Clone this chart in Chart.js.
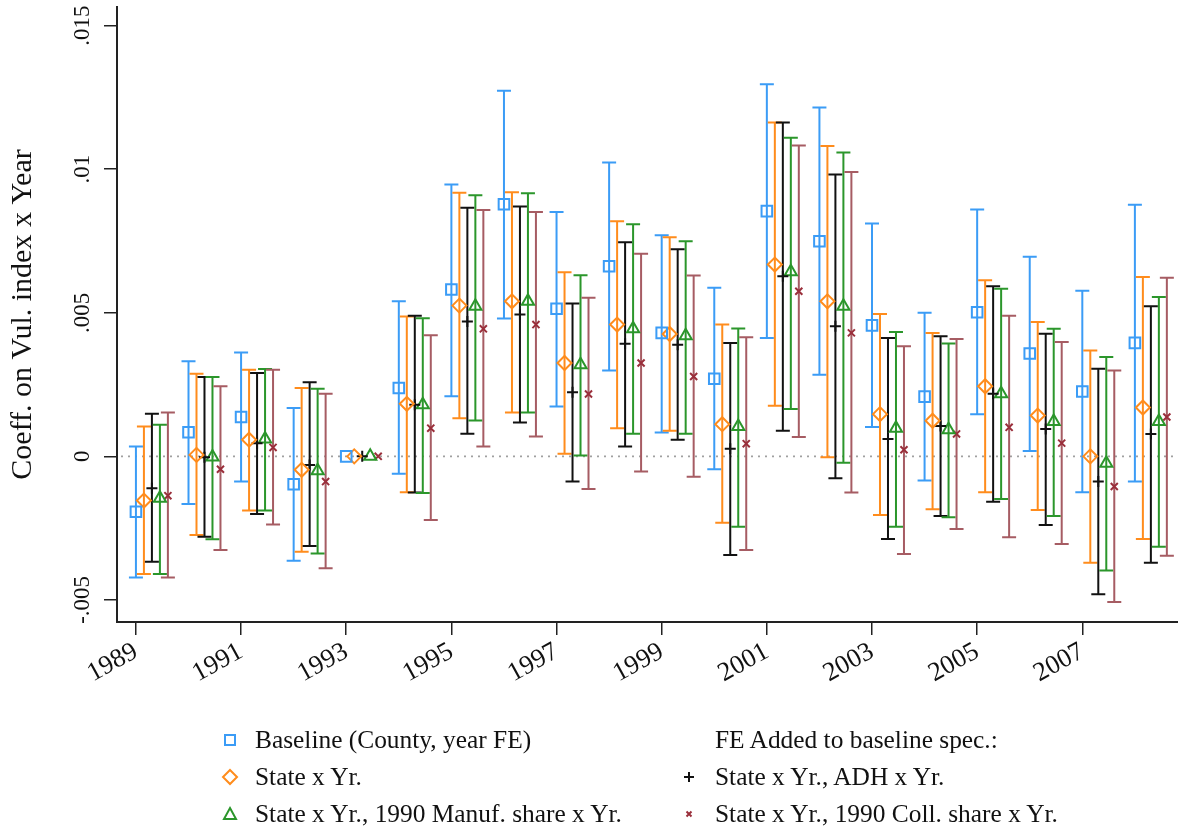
<!DOCTYPE html>
<html>
<head>
<meta charset="utf-8">
<script src="https://cdn.jsdelivr.net/npm/chart.js@4.4.1/dist/chart.umd.min.js"></script>
<style>
  html, body { margin: 0; padding: 0; background: #fff; }
  #wrap { position: relative; width: 1178px; height: 833px; overflow: hidden; }
  #chart { position: absolute; left: 0; top: 0; }
  .leg { position: absolute; font-family: 'Liberation Serif', 'Times New Roman', serif; font-size: 25.4px; line-height: 1; color: #111; white-space: nowrap; }
  .sym { position: absolute; width: 20px; height: 20px; }
</style>
</head>
<body>
<div id="wrap">
  <canvas id="chart" width="1178" height="833"></canvas>
  <div id="legend"></div>
</div>
<script>
// ---------- DATA ----------
const years = [1989, 1990, 1991, 1992, 1993, 1994, 1995, 1996, 1997, 1998,
               1999, 2000, 2001, 2002, 2003, 2004, 2005, 2006, 2007, 2008];
const xTicks = [1989, 1991, 1993, 1995, 1997, 1999, 2001, 2003, 2005, 2007];
const yTicks = [-0.005, 0, 0.005, 0.01, 0.015];
const yTickLabels = ['-.005', '0', '.005', '.01', '.015'];

// Baseline (County, year FE)
const basePt = [-0.00193, 0.00084, 0.00137, -0.00097, 0, 0.00238, 0.00581, 0.00878, 0.00514, 0.00662,
                0.00430, 0.00270, 0.00854, 0.00749, 0.00456, 0.00208, 0.00502, 0.00358, 0.00226, 0.00395];
const baseLo = [-0.00422, -0.00166, -0.00088, -0.00364, null, -0.00061, 0.00209, 0.00480, 0.00174, 0.00299,
                0.00083, -0.00045, 0.00412, 0.00284, 0.00102, -0.00084, 0.00147, 0.00019, -0.00125, -0.00088];
const baseHi = [0.00034, 0.00331, 0.00362, 0.00168, null, 0.00540, 0.00947, 0.01273, 0.00851, 0.01023,
                0.00770, 0.00587, 0.01296, 0.01215, 0.00811, 0.00500, 0.00860, 0.00695, 0.00577, 0.00876];

// State x Yr.
const statePt = [-0.00154, 0.00005, 0.00058, -0.00047, 0, 0.00183, 0.00525, 0.00540, 0.00325, 0.00459,
                 0.00426, 0.00112, 0.00668, 0.00540, 0.00147, 0.00124, 0.00244, 0.00142, 0.00000, 0.00170];
const stateLo = [-0.00410, -0.00274, -0.00189, -0.00332, null, -0.00125, 0.00133, 0.00153, 0.00009, 0.00098,
                 0.00089, -0.00231, 0.00176, -0.00003, -0.00204, -0.00184, -0.00125, -0.00187, -0.00371, -0.00288];
const stateHi = [0.00104, 0.00288, 0.00302, 0.00238, null, 0.00487, 0.00918, 0.00920, 0.00641, 0.00819,
                 0.00763, 0.00459, 0.01163, 0.01081, 0.00496, 0.00430, 0.00613, 0.00468, 0.00369, 0.00625];

// State x Yr., ADH x Yr.
const adhPt = [-0.00111, -0.00003, 0.00046, -0.00030, 0, 0.00180, 0.00470, 0.00494, 0.00223, 0.00392,
               0.00389, 0.00026, 0.00627, 0.00453, 0.00060, 0.00106, 0.00218, 0.00095, -0.00088, 0.00078];
const adhLo = [-0.00367, -0.00280, -0.00201, -0.00312, null, -0.00126, 0.00079, 0.00118, -0.00088, 0.00034,
               0.00058, -0.00344, 0.00089, -0.00076, -0.00288, -0.00208, -0.00158, -0.00239, -0.00480, -0.00371];
const adhHi = [0.00148, 0.00276, 0.00290, 0.00258, null, 0.00490, 0.00866, 0.00870, 0.00532, 0.00746,
               0.00721, 0.00395, 0.01163, 0.00982, 0.00412, 0.00418, 0.00592, 0.00427, 0.00305, 0.00523];

// State x Yr., 1990 Manuf. share x Yr.
const manufPt = [-0.00146, -0.00002, 0.00060, -0.00050, 0, 0.00180, 0.00523, 0.00540, 0.00319, 0.00444,
                 0.00420, 0.00104, 0.00643, 0.00523, 0.00098, 0.00093, 0.00218, 0.00121, -0.00024, 0.00121];
const manufLo = [-0.00410, -0.00289, -0.00189, -0.00338, null, -0.00128, 0.00125, 0.00153, 0.00003, 0.00079,
                 0.00079, -0.00245, 0.00165, -0.00022, -0.00245, -0.00212, -0.00149, -0.00208, -0.00398, -0.00315];
const manufHi = [0.00110, 0.00276, 0.00304, 0.00235, null, 0.00481, 0.00909, 0.00916, 0.00631, 0.00808,
                 0.00749, 0.00445, 0.01110, 0.01058, 0.00433, 0.00393, 0.00584, 0.00444, 0.00346, 0.00555];

// State x Yr., 1990 Coll. share x Yr.
const collPt = [-0.00137, -0.00045, 0.00031, -0.00088, 0, 0.00098, 0.00444, 0.00459, 0.00217, 0.00325,
                0.00278, 0.00044, 0.00575, 0.00430, 0.00023, 0.00078, 0.00101, 0.00046, -0.00105, 0.00137];
const collLo = [-0.00422, -0.00326, -0.00237, -0.00390, null, -0.00222, 0.00034, 0.00069, -0.00114, -0.00053,
                -0.00071, -0.00326, 0.00067, -0.00126, -0.00340, -0.00253, -0.00282, -0.00305, -0.00507, -0.00346];
const collHi = [0.00153, 0.00244, 0.00302, 0.00218, null, 0.00422, 0.00858, 0.00851, 0.00552, 0.00706,
                0.00630, 0.00415, 0.01083, 0.00990, 0.00383, 0.00409, 0.00490, 0.00398, 0.00299, 0.00622];

// ---------- STYLE ----------
const FONT = "'Liberation Serif', 'Times New Roman', serif";
const BLUE = '#3b9cf6', ORANGE = '#ff8c1c', BLACK = '#111111', GREEN = '#2b962b', MAROON = '#a65c63';

// series drawn side by side within each year
const series = [
  { label: 'Baseline (County, year FE)', pt: basePt, lo: baseLo, hi: baseHi, color: BLUE, style: 'rect', r: 7.5, mark: BLUE },
  { label: 'State x Yr.', pt: statePt, lo: stateLo, hi: stateHi, color: ORANGE, style: 'rectRot', r: 7, mark: ORANGE },
  { label: 'State x Yr., ADH x Yr.', pt: adhPt, lo: adhLo, hi: adhHi, color: BLACK, style: 'cross', r: 5.5, mark: BLACK },
  { label: 'State x Yr., 1990 Manuf. share x Yr.', pt: manufPt, lo: manufLo, hi: manufHi, color: GREEN, style: 'triangle', r: 7, mark: GREEN },
  { label: 'State x Yr., 1990 Coll. share x Yr.', pt: collPt, lo: collLo, hi: collHi, color: MAROON, style: 'crossRot', r: 5, mark: '#9a2f3b' }
];
const STEP = 0.152; // horizontal shift between series (in years)
const CAP = 7;      // half cap width, px

// ---------- PLUGINS ----------
const errorBars = {
  id: 'errorBars',
  beforeDatasetsDraw(chart) {
    const { ctx, chartArea, scales: { x, y } } = chart;
    ctx.save();
    // dotted zero reference line
    const y0 = y.getPixelForValue(0);
    ctx.strokeStyle = '#a0a0a0';
    ctx.lineWidth = 1.6;
    ctx.setLineDash([2, 5]);
    ctx.beginPath();
    ctx.moveTo(chartArea.left + 4, y0);
    ctx.lineTo(chartArea.right, y0);
    ctx.stroke();
    ctx.setLineDash([]);

    // capped spikes
    series.forEach((s, k) => {
      ctx.strokeStyle = s.color;
      ctx.lineWidth = 2;
      years.forEach((yr, i) => {
        if (s.lo[i] == null || s.hi[i] == null) return;
        const px = x.getPixelForValue(yr + k * STEP);
        const pLo = y.getPixelForValue(s.lo[i]);
        const pHi = y.getPixelForValue(s.hi[i]);
        ctx.beginPath();
        ctx.moveTo(px, pLo); ctx.lineTo(px, pHi);
        ctx.moveTo(px - CAP, pLo); ctx.lineTo(px + CAP, pLo);
        ctx.moveTo(px - CAP, pHi); ctx.lineTo(px + CAP, pHi);
        ctx.stroke();
      });
    });
    ctx.restore();
  }
};

// ---------- CHART ----------
const datasets = series.map((s, k) => ({
  label: s.label,
  data: years.map((yr, i) => ({ x: yr + k * STEP, y: s.pt[i] })),
  showLine: false,
  pointStyle: s.style,
  pointRadius: s.r,
  pointBorderWidth: 2,
  pointBorderColor: s.mark,
  pointBackgroundColor: 'rgba(0,0,0,0)',
  borderColor: s.mark,
  backgroundColor: 'rgba(0,0,0,0)'
}));

new Chart(document.getElementById('chart'), {
  type: 'scatter',
  data: { datasets },
  plugins: [errorBars],
  options: {
    responsive: false,
    animation: false,
    devicePixelRatio: 1,
    events: [],
    layout: { autoPadding: false, padding: { top: 7, left: 0, right: 0, bottom: 0 } },
    plugins: { legend: { display: false }, tooltip: { enabled: false } },
    scales: {
      x: {
        type: 'linear',
        min: 1988.64,
        max: 2008.82,
        afterBuildTicks: s => { s.ticks = xTicks.map(v => ({ value: v })); },
        ticks: {
          callback: v => String(v),
          autoSkip: false,
          minRotation: 29,
          maxRotation: 29,
          padding: 1,
          color: '#111',
          font: { family: FONT, size: 26.5 }
        },
        grid: { drawOnChartArea: false, drawTicks: true, tickLength: 13, color: '#222', lineWidth: 1.5 },
        border: { display: true, color: '#222', width: 2 },
        afterFit: s => { s.height = 211; s.paddingLeft = 0; s.paddingRight = 0; }
      },
      y: {
        type: 'linear',
        min: -0.00577,
        max: 0.01565,
        afterBuildTicks: s => { s.ticks = yTicks.map(v => ({ value: v })); },
        ticks: {
          callback: v => yTickLabels[yTicks.indexOf(v)],
          minRotation: 90,
          maxRotation: 90,
          crossAlign: 'center',
          padding: -3,
          color: '#111',
          font: { family: FONT, size: 23 }
        },
        grid: { drawOnChartArea: false, drawTicks: true, tickLength: 13, color: '#222', lineWidth: 1.5 },
        border: { display: true, color: '#222', width: 2 },
        title: {
          display: true,
          text: 'Coeff. on Vul. index x Year',
          color: '#111',
          font: { family: FONT, size: 30 },
          padding: { top: 5, bottom: 0 }
        },
        afterFit: s => { s.width = 117; s.paddingTop = 0; s.paddingBottom = 0; }
      }
    }
  }
});

// ---------- LEGEND ----------
const legendItems = [
  { text: 'Baseline (County, year FE)', col: 0, row: 0, sym: 'square', color: BLUE },
  { text: 'State x Yr.', col: 0, row: 1, sym: 'diamond', color: ORANGE },
  { text: 'State x Yr., 1990 Manuf. share x Yr.', col: 0, row: 2, sym: 'triangle', color: GREEN },
  { text: 'FE Added to baseline spec.:', col: 1, row: 0, sym: null },
  { text: 'State x Yr., ADH x Yr.', col: 1, row: 1, sym: 'plus', color: BLACK },
  { text: 'State x Yr., 1990 Coll. share x Yr.', col: 1, row: 2, sym: 'x', color: '#9a2f3b' }
];
const symX = [230, 689];
const textX = [255, 715];
const rowY = [740, 777, 814];

function symbolSvg(kind, c) {
  const st = `fill="none" stroke="${c}" stroke-width="2"`;
  let body = '';
  if (kind === 'square') body = `<rect x="5" y="5" width="10" height="10" ${st}/>`;
  if (kind === 'diamond') body = `<polygon points="10,3 17,10 10,17 3,10" ${st}/>`;
  if (kind === 'triangle') body = `<polygon points="10,4 16,15 4,15" ${st}/>`;
  if (kind === 'plus') body = `<path d="M10 5 V15 M5 10 H15" ${st}/>`;
  if (kind === 'x') body = `<path d="M7.5 7.5 L12.5 12.5 M12.5 7.5 L7.5 12.5" ${st}/>`;
  return `<svg width="20" height="20" viewBox="0 0 20 20">${body}</svg>`;
}

const legendEl = document.getElementById('legend');
legendItems.forEach(it => {
  if (it.sym) {
    const d = document.createElement('div');
    d.className = 'sym';
    d.style.left = (symX[it.col] - 10) + 'px';
    d.style.top = (rowY[it.row] - 10) + 'px';
    d.innerHTML = symbolSvg(it.sym, it.color);
    legendEl.appendChild(d);
  }
  const t = document.createElement('div');
  t.className = 'leg';
  t.style.left = textX[it.col] + 'px';
  t.style.top = (rowY[it.row] - 13) + 'px';
  t.textContent = it.text;
  legendEl.appendChild(t);
});
</script>
</body>
</html>
